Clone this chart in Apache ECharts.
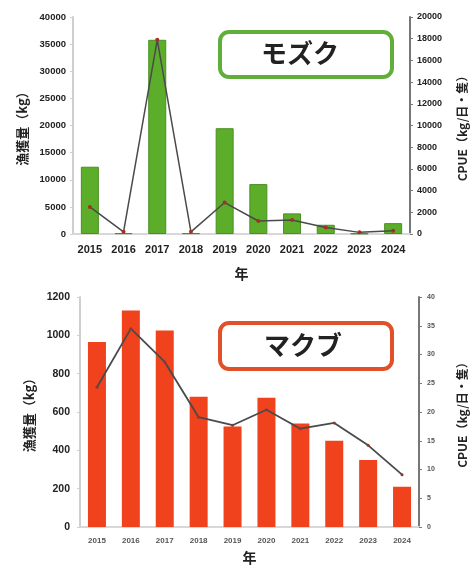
<!DOCTYPE html>
<html>
<head>
<meta charset="utf-8">
<script src="https://cdn.jsdelivr.net/npm/echarts@6/dist/echarts.min.js"></script>
<style>
  html, body { margin: 0; padding: 0; background: #fff; }
  #chart { width: 476px; height: 569px; }
</style>
</head>
<body>
<div id="chart"></div>
<script>
// years shared by both panels
const years = ["2015", "2016", "2017", "2018", "2019", "2020", "2021", "2022", "2023", "2024"];

// モズク (top)
const mozukuCatch = [12400, 150, 35800, 150, 19500, 9200, 3800, 1700, 100, 2000];
const mozukuCpue = [2500, 200, 17900, 200, 2900, 1200, 1300, 600, 150, 300];

// マクブ (bottom)
const makubuCatch = [965, 1130, 1025, 680, 525, 675, 540, 450, 350, 210];
const makubuCpue = [24.3, 34.5, 28.7, 19.1, 17.7, 20.4, 17.1, 18.1, 14.2, 9.1];

const JP = "'Noto Sans CJK JP', 'Noto Sans', sans-serif";
const chart = echarts.init(document.getElementById("chart"));

const plain = (v) => String(v); // no thousand separators

// common axis pieces
const leftAxisBase = {
  type: "value",
  position: "left",
  nameLocation: "middle",
  nameRotate: 90,
  splitLine: { show: false },
  axisLine: { show: true, lineStyle: { color: "#cfcfcf", width: 2 } },
  axisTick: { show: true, length: 3, lineStyle: { color: "#cfcfcf" } },
  nameTextStyle: { fontFamily: JP, fontWeight: "bold", fontSize: 13, color: "#222" },
};

const rightAxisBase = {
  type: "value",
  position: "right",
  nameLocation: "middle",
  nameRotate: 90,
  splitLine: { show: false },
  axisLine: { show: true, lineStyle: { color: "#777", width: 2 } },
  axisTick: { show: true, length: 3, lineStyle: { color: "#777" } },
  nameTextStyle: { fontFamily: JP, fontWeight: "bold", fontSize: 12, color: "#222" },
};

const option = {
  animation: false,
  backgroundColor: "#fff",
  grid: [
    { left: 73, right: 65, top: 17, height: 217 },
    { left: 80, right: 57, top: 297, height: 230 },
  ],
  xAxis: [
    {
      type: "category",
      gridIndex: 0,
      data: years,
      name: "年",
      nameLocation: "middle",
      nameGap: 33,
      nameTextStyle: { fontFamily: JP, fontWeight: "bold", fontSize: 14, color: "#222" },
      axisLine: { lineStyle: { color: "#d8d8d8", width: 2 } },
      axisTick: { show: false },
      axisLabel: { fontFamily: "Liberation Sans", fontWeight: "bold", fontSize: 11, color: "#222", margin: 10 },
    },
    {
      type: "category",
      gridIndex: 1,
      data: years,
      name: "年",
      nameLocation: "middle",
      nameGap: 24,
      nameTextStyle: { fontFamily: JP, fontWeight: "bold", fontSize: 14, color: "#222" },
      axisLine: { lineStyle: { color: "#d8d8d8", width: 2 } },
      axisTick: { show: false },
      axisLabel: { fontFamily: "Liberation Sans", fontWeight: "bold", fontSize: 8, color: "#555", margin: 10 },
    },
  ],
  yAxis: [
    Object.assign({}, leftAxisBase, {
      gridIndex: 0,
      min: 0, max: 40000, interval: 5000,
      name: "漁獲量（kg）",
      nameGap: 34,
      axisLabel: { formatter: plain, fontFamily: "Liberation Sans", fontWeight: "bold", fontSize: 9.5, color: "#222", margin: 7 },
    }),
    Object.assign({}, rightAxisBase, {
      gridIndex: 0,
      min: 0, max: 20000, interval: 2000,
      name: "CPUE（kg/日・隻）",
      nameGap: 46,
      axisLabel: { formatter: plain, fontFamily: "Liberation Sans", fontWeight: "bold", fontSize: 9, color: "#222", margin: 7 },
    }),
    Object.assign({}, leftAxisBase, {
      gridIndex: 1,
      min: 0, max: 1200, interval: 200,
      name: "漁獲量（kg）",
      nameGap: 40,
      axisLabel: { formatter: plain, fontFamily: "Liberation Sans", fontWeight: "bold", fontSize: 10.5, color: "#222", margin: 10 },
    }),
    Object.assign({}, rightAxisBase, {
      gridIndex: 1,
      min: 0, max: 40, interval: 5,
      name: "CPUE（kg/日・隻）",
      nameGap: 37,
      axisLabel: { formatter: plain, fontFamily: "Liberation Sans", fontWeight: "bold", fontSize: 7, color: "#555", margin: 8 },
    }),
  ],
  graphic: [
    {
      type: "rect",
      shape: { x: 220, y: 32, width: 172, height: 45, r: 9 },
      style: { fill: "#fff", stroke: "#62ae3a", lineWidth: 4 },
      z: 100,
    },
    {
      type: "text",
      left: 261, top: 40,
      style: { text: "モズク", fontFamily: JP, fontWeight: "bold", fontSize: 26, fill: "#222", letterSpacing: 5 },
      z: 101,
    },
    {
      type: "rect",
      shape: { x: 220, y: 323, width: 172, height: 46, r: 9 },
      style: { fill: "#fff", stroke: "#e2502a", lineWidth: 4 },
      z: 100,
    },
    {
      type: "text",
      left: 264, top: 332,
      style: { text: "マクブ", fontFamily: JP, fontWeight: "bold", fontSize: 26, fill: "#222", letterSpacing: 8 },
      z: 101,
    },
  ],
  series: [
    {
      name: "モズク漁獲量",
      type: "bar",
      xAxisIndex: 0, yAxisIndex: 0,
      data: mozukuCatch,
      barWidth: 18,
      itemStyle: { color: "#5cae2a", borderColor: "#4a8f22", borderWidth: 1 },
    },
    {
      name: "モズクCPUE",
      type: "line",
      xAxisIndex: 0, yAxisIndex: 1,
      data: mozukuCpue,
      symbol: "circle",
      symbolSize: 4,
      lineStyle: { color: "#4a4a4a", width: 1.5 },
      itemStyle: { color: "#a0302a" },
      z: 5,
    },
    {
      name: "マクブ漁獲量",
      type: "bar",
      xAxisIndex: 1, yAxisIndex: 2,
      data: makubuCatch,
      barWidth: 18,
      itemStyle: { color: "#f0421c" },
    },
    {
      name: "マクブCPUE",
      type: "line",
      xAxisIndex: 1, yAxisIndex: 3,
      data: makubuCpue,
      symbol: "circle",
      symbolSize: 3,
      lineStyle: { color: "#4a4a4a", width: 1.8 },
      itemStyle: { color: "#8a3a30" },
      z: 5,
    },
  ],
};

chart.setOption(option);
</script>
</body>
</html>
